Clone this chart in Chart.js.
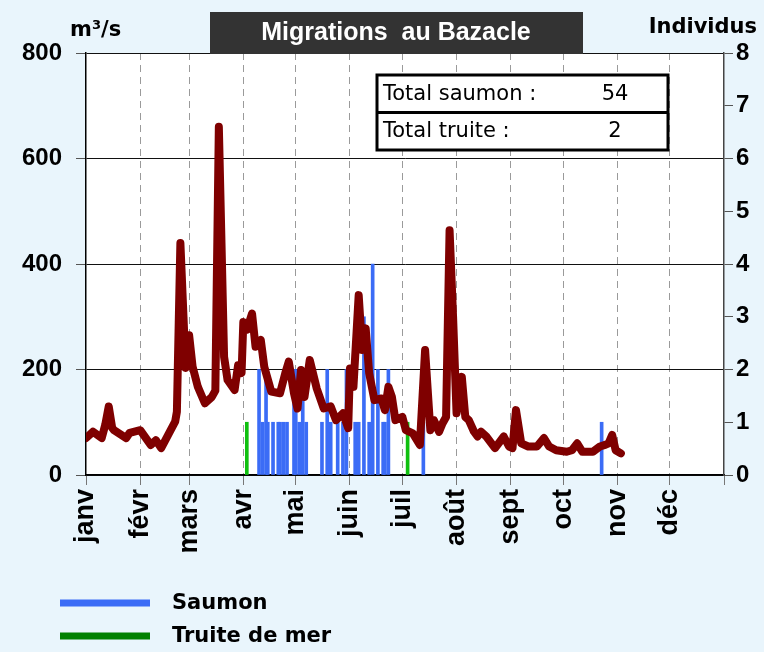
<!DOCTYPE html>
<html>
<head>
<meta charset="utf-8">
<script src="https://cdn.jsdelivr.net/npm/chart.js@4.4.1/dist/chart.umd.min.js"></script>
<style>
  html, body { margin: 0; padding: 0; background: #e9f5fc; }
</style>
</head>
<body>
<canvas id="chart" width="764" height="652"></canvas>
<script>
// axe des jours (0 = 1er janvier)
const monthStarts = [0, 31, 59, 90, 120, 151, 181, 212, 243, 273, 304, 334, 365];
const monthLabels = ['janv', 'févr', 'mars', 'avr', 'mai', 'juin', 'juil', 'août', 'sept', 'oct', 'nov', 'déc', ''];

// débit de la Garonne (m3/s)
const flowDays = [0, 4, 9, 11, 13, 15, 16, 23, 25, 31, 37, 40, 43, 47, 51, 52, 54, 57, 59, 61, 64, 68, 72, 74, 76,
  79, 81, 85, 87, 89, 90, 92, 95, 97, 100, 102, 106, 111, 114, 116, 119, 121, 123, 125, 128, 132, 136, 140, 143,
  147, 150, 151, 153, 156, 158, 160, 162, 165, 169, 171, 173, 175, 177, 181, 183, 187, 191, 194, 197, 199, 202,
  204, 206, 208, 210, 212, 215, 217, 219, 222, 224, 226, 229, 234, 239, 242, 244, 246, 249, 253, 258, 262, 265,
  269, 275, 278, 281, 284, 290, 294, 297, 299, 301, 303, 306];
const flowValues = [70, 82, 70, 95, 130, 89, 85, 70, 80, 85, 57, 66, 51, 76, 101, 120, 440, 203, 265, 205, 167, 136, 148, 160, 660,
  224, 180, 161, 208, 193, 290, 275, 306, 243, 256, 205, 158, 155, 193, 215, 155, 126, 199, 148, 218, 164, 126, 130, 104,
  117, 89, 202, 167, 341, 237, 278, 193, 142, 145, 123, 167, 148, 104, 110, 85, 79, 57, 237, 85, 104, 82,
  98, 110, 464, 300, 117, 186, 110, 104, 82, 73, 82, 73, 51, 73, 54, 51, 123, 60, 54, 54, 70, 54,
  47, 44, 47, 60, 44, 44, 54, 57, 60, 76, 47, 41];

// passages journaliers (individus)
const saumonDays = [99, 101, 103, 104, 107, 110, 111, 113, 115, 119, 120, 122, 124, 126, 135, 138, 140, 144, 147,
  149, 154, 156, 159, 162, 164, 167, 170, 171, 173, 193, 295];
const saumonCounts = [2, 1, 2, 1, 1, 1, 1, 1, 1, 2, 2, 1, 2, 1, 1, 2, 1, 1, 1,
  2, 1, 1, 3, 1, 4, 2, 1, 1, 2, 1, 1];
const truiteDays = [92, 184];
const truiteCounts = [1, 1];

const seriesNames = ['Saumon', 'Truite de mer'];
const legendColors = ['#3b6cf6', '#008000'];
const totalLabels = ['Total saumon :', 'Total truite :'];
const totalValues = [54, 2];

const toPoints = (xs, ys) => xs.map((x, i) => ({ x: x, y: ys[i] }));

const decor = {
  id: 'decor',
  beforeDraw(chart) {
    const ctx = chart.ctx;
    const a = chart.chartArea;
    ctx.save();
    ctx.fillStyle = '#e9f5fc';
    ctx.fillRect(0, 0, chart.width, chart.height);
    ctx.fillStyle = '#ffffff';
    ctx.fillRect(a.left, a.top, a.right - a.left, a.bottom - a.top);
    ctx.restore();
  },
  afterDraw(chart) {
    const ctx = chart.ctx;
    ctx.save();
    // titre
    ctx.fillStyle = '#333333';
    ctx.fillRect(210, 12, 373, 42);
    ctx.fillStyle = '#ffffff';
    ctx.font = 'bold 25px "Liberation Sans", Arial, sans-serif';
    ctx.textAlign = 'center';
    ctx.textBaseline = 'middle';
    ctx.fillText('Migrations  au Bazacle', 396, 33);

    // unités des axes
    ctx.fillStyle = '#000000';
    ctx.font = 'bold 21px "DejaVu Sans", sans-serif';
    ctx.textBaseline = 'alphabetic';
    ctx.textAlign = 'left';
    ctx.fillText('m³/s', 70, 36);
    ctx.textAlign = 'right';
    ctx.fillText('Individus', 757, 33);

    // cadre des totaux
    ctx.fillStyle = '#ffffff';
    ctx.fillRect(377, 75, 291, 75);
    ctx.strokeStyle = '#000000';
    ctx.lineWidth = 3;
    ctx.strokeRect(377, 75, 291, 75);
    ctx.beginPath();
    ctx.moveTo(377, 112.5);
    ctx.lineTo(668, 112.5);
    ctx.stroke();
    ctx.fillStyle = '#000000';
    ctx.font = '21px "DejaVu Sans", sans-serif';
    ctx.textBaseline = 'middle';
    totalLabels.forEach((t, i) => {
      const y = 95 + i * 37;
      ctx.textAlign = 'left';
      ctx.fillText(t, 383, y);
      ctx.textAlign = 'center';
      ctx.fillText(String(totalValues[i]), 615, y);
    });

    // légende
    ctx.font = 'bold 21px "DejaVu Sans", sans-serif';
    ctx.textAlign = 'left';
    seriesNames.forEach((name, i) => {
      const y = 603 + i * 33;
      ctx.strokeStyle = legendColors[i];
      ctx.lineWidth = 7;
      ctx.beginPath();
      ctx.moveTo(60, y);
      ctx.lineTo(150, y);
      ctx.stroke();
      ctx.fillStyle = '#000000';
      ctx.fillText(name, 172, y + 1);
    });
    ctx.restore();
  }
};

const ctx = document.getElementById('chart').getContext('2d');
new Chart(ctx, {
  type: 'line',
  data: {
    datasets: [
      {
        label: 'Débit',
        data: toPoints(flowDays, flowValues),
        borderColor: '#7f0000',
        borderWidth: 8,
        pointRadius: 0,
        tension: 0,
        borderJoinStyle: 'round',
        borderCapStyle: 'round',
        yAxisID: 'y',
        order: 0
      },
      {
        type: 'bar',
        label: seriesNames[0],
        data: toPoints(saumonDays, saumonCounts),
        backgroundColor: '#3b6cf6',
        barThickness: 3,
        grouped: false,
        yAxisID: 'y2',
        order: 1
      },
      {
        type: 'bar',
        label: seriesNames[1],
        data: toPoints(truiteDays, truiteCounts),
        backgroundColor: '#10c010',
        barThickness: 3,
        grouped: false,
        yAxisID: 'y2',
        order: 2
      }
    ]
  },
  options: {
    responsive: false,
    animation: false,
    layout: { padding: { top: 53 } },
    plugins: {
      legend: { display: false },
      tooltip: { enabled: false }
    },
    scales: {
      x: {
        type: 'linear',
        min: 0,
        max: 365,
        offset: false,
        afterBuildTicks: s => { s.ticks = monthStarts.map(v => ({ value: v })); },
        afterFit: s => { s.height = 177; },
        ticks: {
          autoSkip: false,
          minRotation: 90,
          maxRotation: 90,
          padding: 4,
          color: '#000',
          font: { family: '"Liberation Sans", Arial, sans-serif', size: 27, weight: 'bold' },
          callback: v => monthLabels[monthStarts.indexOf(v)]
        },
        grid: {
          offset: false,
          color: c => (c.tick && (c.tick.value === 0 || c.tick.value === 365)) ? 'rgba(0,0,0,0)' : '#9a9a9a',
          lineWidth: 1,
          tickLength: 10,
          tickColor: '#777',
          tickBorderDash: []
        },
        border: { color: '#000', width: 1.5, dash: [7, 5] }
      },
      y: {
        position: 'left',
        min: 0,
        max: 800,
        afterFit: s => { s.width = 86; },
        ticks: {
          stepSize: 200,
          padding: 14,
          color: '#000',
          font: { family: '"Liberation Sans", Arial, sans-serif', size: 24, weight: 'bold' }
        },
        grid: { color: '#111', lineWidth: 1, tickLength: 10, tickColor: '#555' },
        border: { color: '#000', width: 1.5 }
      },
      y2: {
        position: 'right',
        min: 0,
        max: 8,
        afterFit: s => { s.width = 40; },
        ticks: {
          stepSize: 1,
          padding: 3,
          color: '#000',
          font: { family: '"Liberation Sans", Arial, sans-serif', size: 24, weight: 'bold' }
        },
        grid: { drawOnChartArea: false, tickLength: 9, tickColor: '#555' },
        border: { color: '#444', width: 1.5 }
      }
    }
  },
  plugins: [decor]
});
</script>
</body>
</html>
